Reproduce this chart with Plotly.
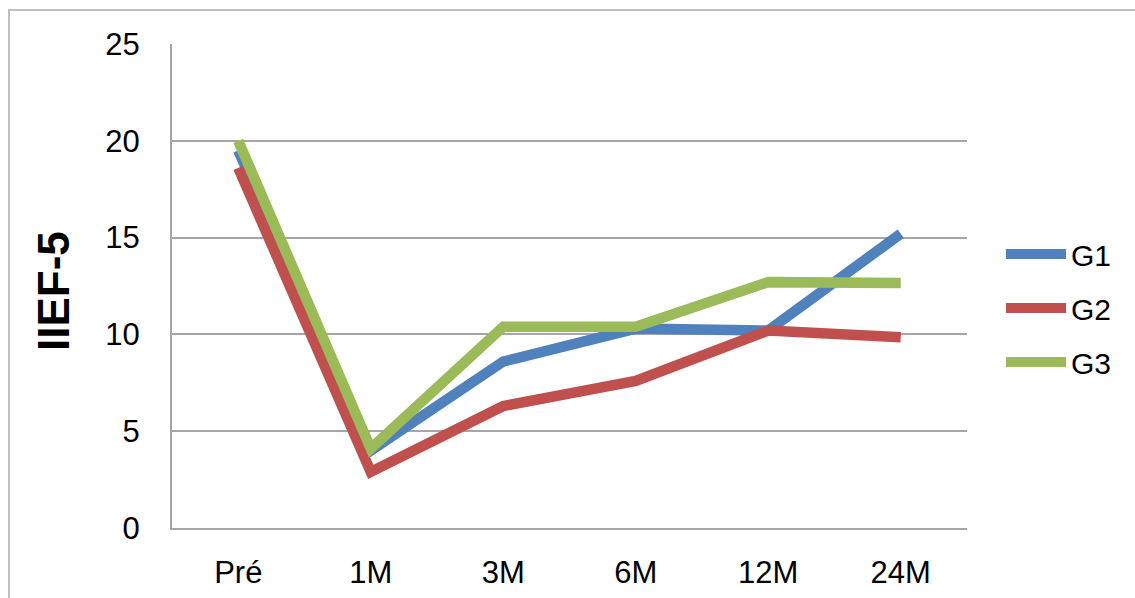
import plotly.graph_objects as go

# IIEF-5 scores over follow-up time for three groups
timepoints = ["Pré", "1M", "3M", "6M", "12M", "24M"]
g1_scores = [19.5, 4.0, 8.6, 10.3, 10.2, 15.2]
g2_scores = [18.6, 2.9, 6.3, 7.6, 10.2, 9.85]
g3_scores = [20.0, 4.1, 10.4, 10.4, 12.7, 12.65]
y_ticks = [0, 5, 10, 15, 20, 25]

series = [
    ("G1", g1_scores, "#4F81BD"),
    ("G2", g2_scores, "#C0504D"),
    ("G3", g3_scores, "#9BBB59"),
]

FONT = "Liberation Sans, Arial, Helvetica, sans-serif"

fig = go.Figure()
for name, vals, color in series:
    fig.add_trace(go.Scatter(
        x=timepoints, y=vals, name=name, mode="lines",
        line=dict(color=color, width=10.5),
        legendgroup=name,
    ))

W, H = 1135, 598
L, R, T, B = 172, 168, 44, 70
pw, ph = W - L - R, H - T - B

fig.update_layout(
    width=W, height=H,
    margin=dict(l=L, r=R, t=T, b=B, autoexpand=False),
    paper_bgcolor="white", plot_bgcolor="white",
    font=dict(family=FONT, size=31, color="#000000"),
    showlegend=True,
    legend=dict(
        x=(1001 - L) / pw, xanchor="left",
        y=(H - B - 308) / ph, yanchor="middle",
        font=dict(size=30, family=FONT, color="#000000"),
        itemwidth=60,
        tracegroupgap=12,
        bgcolor="rgba(0,0,0,0)",
    ),
    xaxis=dict(
        type="category",
        categoryorder="array", categoryarray=timepoints,
        showgrid=False, zeroline=False,
        showline=True, linecolor="#A6A6A6", linewidth=2,
        ticks="", tickfont=dict(size=31, family=FONT),
        ticklabelstandoff=16,
        range=[-0.5, 5.5],
    ),
    yaxis=dict(
        range=[0, 25], tickvals=y_ticks,
        showgrid=True, gridcolor="#A6A6A6", gridwidth=2,
        zeroline=False,
        showline=True, linecolor="#A6A6A6", linewidth=2,
        ticks="", tickfont=dict(size=31, family=FONT),
        ticklabelstandoff=24,
    ),
    annotations=[dict(
        text="<b>IIEF-5</b>", textangle=-90,
        xref="paper", yref="paper",
        x=(53 - L) / pw, y=(H - B - 291) / ph,
        xanchor="center", yanchor="middle", showarrow=False,
        font=dict(size=44, family=FONT, color="#000000"),
    )],
    shapes=[dict(
        type="rect", xref="paper", yref="paper",
        x0=(9 - L) / pw, x1=(W + 20 - L) / pw,
        y0=-(B + 20) / ph, y1=1 + (T - 10) / ph,
        line=dict(color="#BFBFBF", width=2), layer="below",
    )],
)

fig.write_html("out.html")
